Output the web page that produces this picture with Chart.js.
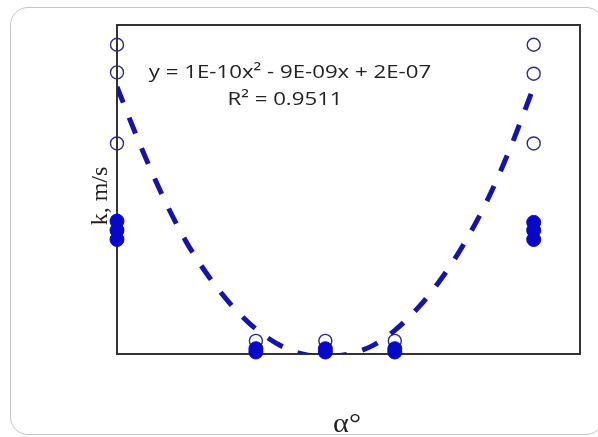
<!DOCTYPE html>
<html>
<head>
<meta charset="utf-8">
<script src="https://cdn.jsdelivr.net/npm/chart.js@4"></script>
<style>
html,body{margin:0;padding:0;background:#fff;}
#wrap{position:relative;width:598px;height:437px;overflow:hidden;}
#frame{position:absolute;left:10px;top:7px;width:594px;height:428px;border:1.5px solid #c4c4c4;border-radius:18px;box-sizing:border-box;}
canvas{position:absolute;left:0;top:0;}
</style>
</head>
<body>
<div id="wrap"><div id="frame"></div><canvas id="c" width="598" height="437"></canvas></div>
<script>
// Hollow-marker series
const openX = [0, 0, 0, 30, 45, 60, 90, 90, 90];
const openY = [2.35e-7, 2.14e-7, 1.60e-7, 1.0e-8, 1.0e-8, 1.0e-8, 2.35e-7, 2.13e-7, 1.60e-7];
// Filled-marker series
const filledX = [0, 0, 0, 30, 30, 45, 45, 60, 60, 90, 90, 90];
const filledY = [1.01e-7, 0.94e-7, 0.87e-7, 0.40e-8, 0.15e-8, 0.40e-8, 0.15e-8, 0.40e-8, 0.15e-8, 1.00e-7, 0.94e-7, 0.87e-7];
// Polynomial trendline
const trendX = [0, 5, 10, 15, 20, 25, 30, 35, 40, 45, 50, 55, 60, 65, 70, 75, 80, 85, 90];
const trendY = [2.03e-7, 1.59e-7, 1.19e-7, 0.85e-7, 0.58e-7, 0.36e-7, 0.19e-7, 0.07e-7, 0.0, -0.02e-7, 0.0, 0.06e-7, 0.18e-7, 0.35e-7, 0.57e-7, 0.84e-7, 1.17e-7, 1.57e-7, 2.03e-7];
// Texts
const equationText = 'y = 1E-10x\u00B2 - 9E-09x + 2E-07';
const r2Text = 'R\u00B2 = 0.9511';
const yTitle = 'k, m/s';
const xTitle = '\u03B1\u00B0';

const pts = (xs, ys) => xs.map((x, i) => ({x: x, y: ys[i]}));

function stretchedText(ctx, text, cx, cy, sx) {
  ctx.save();
  ctx.translate(cx, cy);
  ctx.scale(sx, 1);
  ctx.fillText(text, 0, 0);
  ctx.restore();
}

const decor = {
  id: 'decor',
  beforeDatasetsDraw(chart) {
    const ctx = chart.ctx, a = chart.chartArea;
    ctx.save();
    ctx.strokeStyle = '#333';
    ctx.lineWidth = 2;
    ctx.strokeRect(a.left, a.top, a.right - a.left, a.bottom - a.top);
    ctx.restore();
  },
  afterDraw(chart) {
    const ctx = chart.ctx;
    ctx.save();
    ctx.fillStyle = '#222';
    ctx.font = '19px "Open Sans"';
    ctx.textAlign = 'center';
    ctx.textBaseline = 'middle';
    stretchedText(ctx, equationText, 290, 73, 1.17);
    stretchedText(ctx, r2Text, 285, 100, 1.17);
    ctx.font = '28px "Liberation Serif"';
    ctx.textBaseline = 'alphabetic';
    stretchedText(ctx, xTitle, 347, 432, 1.08);
    ctx.font = '24px "Liberation Serif"';
    ctx.translate(107, 196);
    ctx.rotate(-Math.PI / 2);
    ctx.fillText(yTitle, 0, 0);
    ctx.restore();
  }
};

new Chart(document.getElementById('c'), {
  type: 'scatter',
  data: {
    datasets: [
      {
        label: 'trend',
        type: 'line',
        data: pts(trendX, trendY),
        borderColor: '#1414ab',
        borderWidth: 5,
        borderDash: [17, 16],
        borderCapStyle: 'butt',
        cubicInterpolationMode: 'monotone',
        pointRadius: 0,
        fill: false,
        order: 3
      },
      {
        label: 'open',
        data: pts(openX, openY),
        pointRadius: 6.5,
        pointBorderWidth: 1.4,
        pointBorderColor: '#2c2c88',
        pointBackgroundColor: 'rgba(255,255,255,0)',
        clip: false,
        order: 2
      },
      {
        label: 'filled',
        data: pts(filledX, filledY),
        pointRadius: 7,
        pointBorderWidth: 1,
        pointBorderColor: '#0808c8',
        pointBackgroundColor: '#0808c8',
        clip: false,
        order: 1
      }
    ]
  },
  options: {
    responsive: false,
    animation: false,
    devicePixelRatio: 1,
    layout: {padding: {left: 117, top: 25, right: 18, bottom: 83}},
    plugins: {legend: {display: false}, tooltip: {enabled: false}},
    scales: {
      x: {
        type: 'linear', min: 0, max: 100,
        ticks: {display: false}, grid: {display: false, drawTicks: false}, border: {display: false},
        afterFit(s) { s.height = 0; }
      },
      y: {
        type: 'linear', min: 0, max: 2.5e-7,
        ticks: {display: false}, grid: {display: false, drawTicks: false}, border: {display: false},
        afterFit(s) { s.width = 0; }
      }
    }
  },
  plugins: [decor]
});
</script>
</body>
</html>
